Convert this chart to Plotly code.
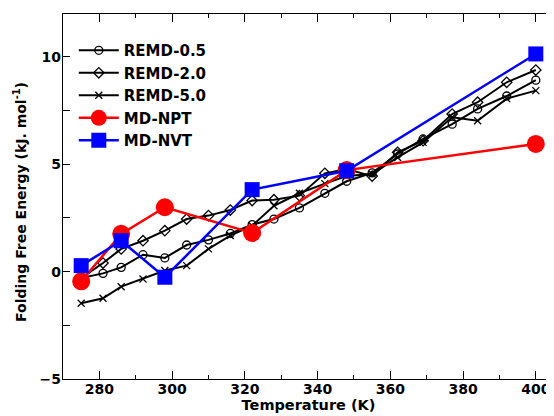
import plotly.graph_objects as go

# Temperatures (K)
T_remd = [275, 281, 286, 292, 298, 304, 310, 316, 322, 328, 335, 342, 348, 355, 362, 369, 377, 384, 392, 400]
T_md = [275, 286, 298, 322, 348, 400]

# Folding free energies (kJ/mol)
remd_05 = [-0.3, -0.08, 0.2, 0.79, 0.64, 1.24, 1.48, 1.78, 2.19, 2.45, 2.97, 3.65, 4.21, 4.6, 5.48, 6.18, 6.87, 7.58, 8.18, 8.92]
remd_20 = [-0.3, 0.4, 1.06, 1.44, 1.91, 2.45, 2.61, 2.87, 3.31, 3.35, 3.54, 4.58, 4.78, 4.45, 5.56, 6.1, 7.34, 7.89, 8.82, 9.39]
remd_50 = [-1.47, -1.24, -0.7, -0.34, 0.05, 0.28, 1.06, 1.68, 2.14, 3.07, 3.65, 4.1, 4.45, 4.55, 5.32, 6.02, 7.19, 7.03, 8.06, 8.43]
md_npt = [-0.45, 1.76, 3.0, 1.8, 4.73, 5.95]
md_nvt = [0.28, 1.44, -0.26, 3.82, 4.7, 10.14]

series_names = ["REMD-0.5", "REMD-2.0", "REMD-5.0", "MD-NPT", "MD-NVT"]
x_ticks = [280, 300, 320, 340, 360, 380, 400]
y_ticks = [-5, 0, 5, 10]
x_title = "Temperature (K)"
y_title = "Folding Free Energy (kJ. mol<sup>-1</sup>)"

fig = go.Figure()
fig.add_trace(go.Scatter(x=T_remd, y=remd_05, name=series_names[0], mode="lines+markers",
                         line=dict(color="black", width=2),
                         marker=dict(symbol="circle-open", size=8, color="black", line=dict(width=1.3))))
fig.add_trace(go.Scatter(x=T_remd, y=remd_20, name=series_names[1], mode="lines+markers",
                         line=dict(color="black", width=2),
                         marker=dict(symbol="diamond-open", size=8, color="black", line=dict(width=1.3))))
fig.add_trace(go.Scatter(x=T_remd, y=remd_50, name=series_names[2], mode="lines+markers",
                         line=dict(color="black", width=2),
                         marker=dict(symbol="x-thin", size=7, color="black", line=dict(width=1.3, color="black"))))
fig.add_trace(go.Scatter(x=T_md, y=md_npt, name=series_names[3], mode="lines+markers",
                         line=dict(color="#ff0000", width=2.5),
                         marker=dict(symbol="circle", size=18, color="#ff0000")))
fig.add_trace(go.Scatter(x=T_md, y=md_nvt, name=series_names[4], mode="lines+markers",
                         line=dict(color="#0000ff", width=2.5),
                         marker=dict(symbol="square", size=15, color="#0000ff")))
# invisible trace to drive right-side ticks
fig.add_trace(go.Scatter(x=[T_md[0]], y=[md_npt[0]], yaxis="y2", mode="markers",
                         marker=dict(opacity=0), showlegend=False, hoverinfo="skip"))

font_fam = "DejaVu Sans, Liberation Sans, Arial, sans-serif"
# the page adds an 8px body margin, so the figure is drawn 8px right/down
fig.update_layout(
    width=546, height=408,
    margin=dict(l=55, r=0, t=6, b=37),
    paper_bgcolor="white", plot_bgcolor="white",
    font=dict(family=font_fam, color="black", size=14),
    showlegend=True,
    legend=dict(x=0.022, y=0.945, xanchor="left", yanchor="top",
                bgcolor="rgba(0,0,0,0)", font=dict(size=15, weight="bold"),
                tracegroupgap=0, itemwidth=40),
    xaxis=dict(range=[270, 405], tickvals=x_ticks, ticks="inside", ticklen=8,
               tickwidth=1.3, tickcolor="black", automargin=False,
               ticklabelstandoff=-3,
               minor=dict(dtick=10, ticks="inside", ticklen=4, tickcolor="black", tickwidth=1.3),
               showline=True, linecolor="black", linewidth=1.3, mirror="ticks",
               showgrid=False, zeroline=False,
               tickfont=dict(size=14, weight="bold"),
               title=dict(text=x_title, font=dict(size=14.5, weight="bold"), standoff=2)),
    yaxis=dict(range=[-5, 12], tickvals=y_ticks, ticks="inside", ticklen=7,
               tickwidth=1.3, tickcolor="black", automargin=False,
               ticklabelstandoff=-2,
               minor=dict(dtick=2.5, ticks="inside", ticklen=7, tickcolor="black", tickwidth=1.3),
               showline=True, linecolor="black", linewidth=1.3,
               showgrid=False, zeroline=False,
               tickfont=dict(size=14, weight="bold")),
    yaxis2=dict(range=[-5, 12], overlaying="y", side="right", tickvals=y_ticks,
                ticks="inside", ticklen=7, tickwidth=1.3, tickcolor="black", automargin=False,
                minor=dict(dtick=2.5, ticks="inside", ticklen=7, tickcolor="black", tickwidth=1.3),
                showticklabels=False, showline=False, showgrid=False, zeroline=False),
    annotations=[dict(text=y_title, xref="paper", yref="paper", x=-0.0876, y=0.485,
                      xanchor="center", yanchor="middle", textangle=-90, showarrow=False,
                      font=dict(size=14, weight="bold"))],
)

fig.write_html("out.html")
